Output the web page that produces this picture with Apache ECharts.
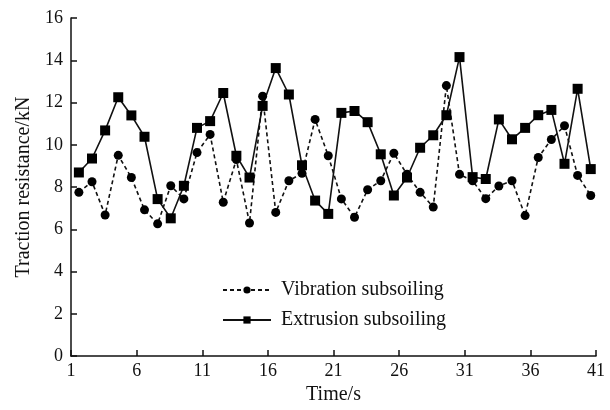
<!DOCTYPE html>
<html>
<head>
<meta charset="utf-8">
<script src="https://cdn.jsdelivr.net/npm/echarts@6/dist/echarts.min.js"></script>
<style>html,body{margin:0;padding:0;background:#fff;}#c{width:610px;height:410px;}</style>
</head>
<body>
<div id="c"></div>
<script>
var times = [1.6, 2.6, 3.6, 4.6, 5.6, 6.6, 7.6, 8.6, 9.6, 10.6,
             11.6, 12.6, 13.6, 14.6, 15.6, 16.6, 17.6, 18.6, 19.6, 20.6,
             21.6, 22.6, 23.6, 24.6, 25.6, 26.6, 27.6, 28.6, 29.6, 30.6,
             31.6, 32.6, 33.6, 34.6, 35.6, 36.6, 37.6, 38.6, 39.6, 40.6];
var vibration = [7.75, 8.25, 6.68, 9.5, 8.45, 6.92, 6.26, 8.06, 7.44, 9.63,
                 10.49, 7.28, 9.3, 6.3, 12.3, 6.8, 8.3, 8.65, 11.2, 9.48,
                 7.44, 6.57, 7.87, 8.3, 9.6, 8.6, 7.75, 7.05, 12.8, 8.6,
                 8.3, 7.45, 8.05, 8.3, 6.65, 9.4, 10.25, 10.9, 8.55, 7.6];
var extrusion = [8.69, 9.35, 10.68, 12.25, 11.39, 10.38, 7.43, 6.52, 8.06, 10.8,
                 11.12, 12.45, 9.48, 8.45, 11.84, 13.63, 12.38, 9.03, 7.36, 6.73,
                 11.51, 11.6, 11.07, 9.55, 7.6, 8.45, 9.86, 10.45, 11.4, 14.15,
                 8.47, 8.38, 11.2, 10.26, 10.8, 11.4, 11.65, 9.1, 12.65, 8.85];
var xTicks = [1, 6, 11, 16, 21, 26, 31, 36, 41];
var seriesNames = ['Vibration subsoiling', 'Extrusion subsoiling'];

function pairs(xs, ys) { return xs.map(function (x, i) { return [x, ys[i]]; }); }

var font = 'Liberation Serif';
var chart = echarts.init(document.getElementById('c'), null, {renderer: 'canvas'});
chart.setOption({
  animation: false,
  backgroundColor: '#fff',
  grid: {left: 71, right: 14, top: 18, bottom: 52},
  legend: {
    orient: 'vertical', left: 217, top: 275,
    itemWidth: 48, itemHeight: 9, itemGap: 10,
    textStyle: {fontFamily: font, fontSize: 20, color: '#111', padding: [0, 0, 0, 5]},
    data: seriesNames
  },
  xAxis: {
    type: 'value', min: 1, max: 41,
    name: 'Time/s', nameLocation: 'middle', nameGap: 24,
    nameTextStyle: {fontFamily: font, fontSize: 20, color: '#111'},
    axisLine: {lineStyle: {color: '#111', width: 1.5}},
    axisTick: {inside: true, length: 6, customValues: xTicks, lineStyle: {color: '#111', width: 1.5}},
    axisLabel: {customValues: xTicks, fontFamily: font, fontSize: 18, color: '#111', margin: 6},
    splitLine: {show: false}
  },
  yAxis: {
    type: 'value', min: 0, max: 16, interval: 2,
    name: 'Traction resistance/kN', nameLocation: 'middle', nameGap: 36,
    nameTextStyle: {fontFamily: font, fontSize: 20, color: '#111'},
    axisLine: {show: true, lineStyle: {color: '#111', width: 1.5}},
    axisTick: {show: true, inside: true, length: 6, lineStyle: {color: '#111', width: 1.5}},
    axisLabel: {fontFamily: font, fontSize: 18, color: '#111', margin: 8},
    splitLine: {show: false}
  },
  series: [
    {
      name: seriesNames[0], type: 'line', data: pairs(times, vibration),
      symbol: 'circle', symbolSize: 9,
      itemStyle: {color: '#000'},
      lineStyle: {color: '#111', width: 1.6, type: [4, 3]}
    },
    {
      name: seriesNames[1], type: 'line', data: pairs(times, extrusion),
      symbol: 'rect', symbolSize: 10,
      itemStyle: {color: '#000'},
      lineStyle: {color: '#111', width: 1.6}
    }
  ]
});
</script>
</body>
</html>
